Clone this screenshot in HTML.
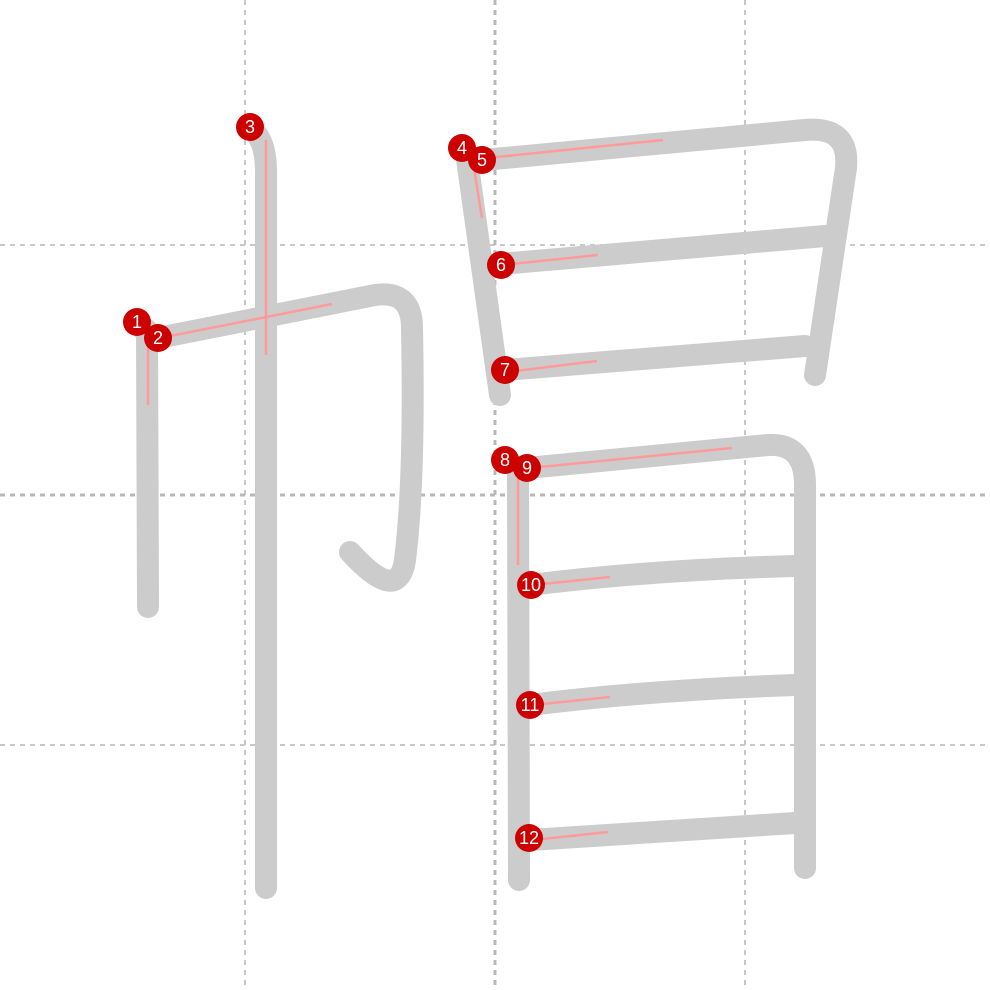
<!DOCTYPE html>
<html><head><meta charset="utf-8"><style>
html,body{margin:0;padding:0;background:#fff}
svg{display:block}
text{font-family:"Liberation Sans",sans-serif;font-size:18px;fill:#fff;text-anchor:middle;dominant-baseline:central}
</style></head><body>
<svg width="990" height="990" viewBox="0 0 990 990">
<g stroke="#c8c8c8" stroke-width="2" stroke-dasharray="5,5" fill="none">
<line x1="245" y1="0" x2="245" y2="990"/>
<line x1="745" y1="0" x2="745" y2="990"/>
<line x1="0" y1="245" x2="990" y2="245"/>
<line x1="0" y1="745" x2="990" y2="745"/>
<line x1="495" y1="0" x2="495" y2="990" stroke="#b8b8b8" stroke-width="3"/>
<line x1="0" y1="495" x2="990" y2="495" stroke="#b8b8b8" stroke-width="3"/>
</g>
<g stroke="#cccccc" stroke-width="22" fill="none" stroke-linecap="round" stroke-linejoin="round">
<path d="M142,328 L147,330 L148,607"/>
<path d="M158,338 L375,295 Q412,290 412,328 Q415,480 405,560 Q398,605 350,552"/>
<path d="M252,130 Q266,140 266,172 L266,888"/>
<path d="M466,152 L500,395"/>
<path d="M483,160 L805,130 Q850,126 846,168 L815,375"/>
<path d="M500,264 L825,236"/>
<path d="M505,370 L805,346"/>
<path d="M510,462 L518,470 L519,880"/>
<path d="M527,468 L768,445 Q805,443 805,485 L805,868"/>
<path d="M530,585 Q650,570 795,566"/>
<path d="M530,705 Q650,690 795,685"/>
<path d="M530,840 L795,823"/>
</g>
<g stroke="#ff9a9a" stroke-width="2.5" fill="none">
<line x1="148" y1="330" x2="148" y2="405"/>
<line x1="160" y1="338" x2="332" y2="304"/>
<line x1="266" y1="140" x2="266" y2="355"/>
<line x1="472" y1="156" x2="482" y2="218"/>
<line x1="487" y1="158" x2="663" y2="140"/>
<line x1="502" y1="265" x2="598" y2="255"/>
<line x1="507" y1="372" x2="597" y2="361"/>
<line x1="518" y1="470" x2="518" y2="565"/>
<line x1="530" y1="468" x2="732" y2="448"/>
<line x1="533" y1="585" x2="610" y2="577"/>
<line x1="533" y1="705" x2="610" y2="697"/>
<line x1="533" y1="840" x2="608" y2="832"/>
</g>
<g fill="#cc0000">
<g><circle cx="137" cy="322" r="14"/><text x="137" y="322">1</text></g>
<g><circle cx="158" cy="338" r="14"/><text x="158" y="338">2</text></g>
<g><circle cx="250" cy="127" r="14"/><text x="250" y="127">3</text></g>
<g><circle cx="462" cy="148" r="14"/><text x="462" y="148">4</text></g>
<g><circle cx="482" cy="160" r="14"/><text x="482" y="160">5</text></g>
<g><circle cx="501" cy="265" r="14"/><text x="501" y="265">6</text></g>
<g><circle cx="505" cy="370" r="14"/><text x="505" y="370">7</text></g>
<g><circle cx="505" cy="460" r="14"/><text x="505" y="460">8</text></g>
<g><circle cx="527" cy="468" r="14"/><text x="527" y="468">9</text></g>
<g><circle cx="531" cy="585" r="14"/><text x="531" y="585">10</text></g>
<g><circle cx="530" cy="705" r="14"/><text x="530" y="705">11</text></g>
<g><circle cx="529" cy="838" r="14"/><text x="529" y="838">12</text></g>
</g>
</svg>
</body></html>
